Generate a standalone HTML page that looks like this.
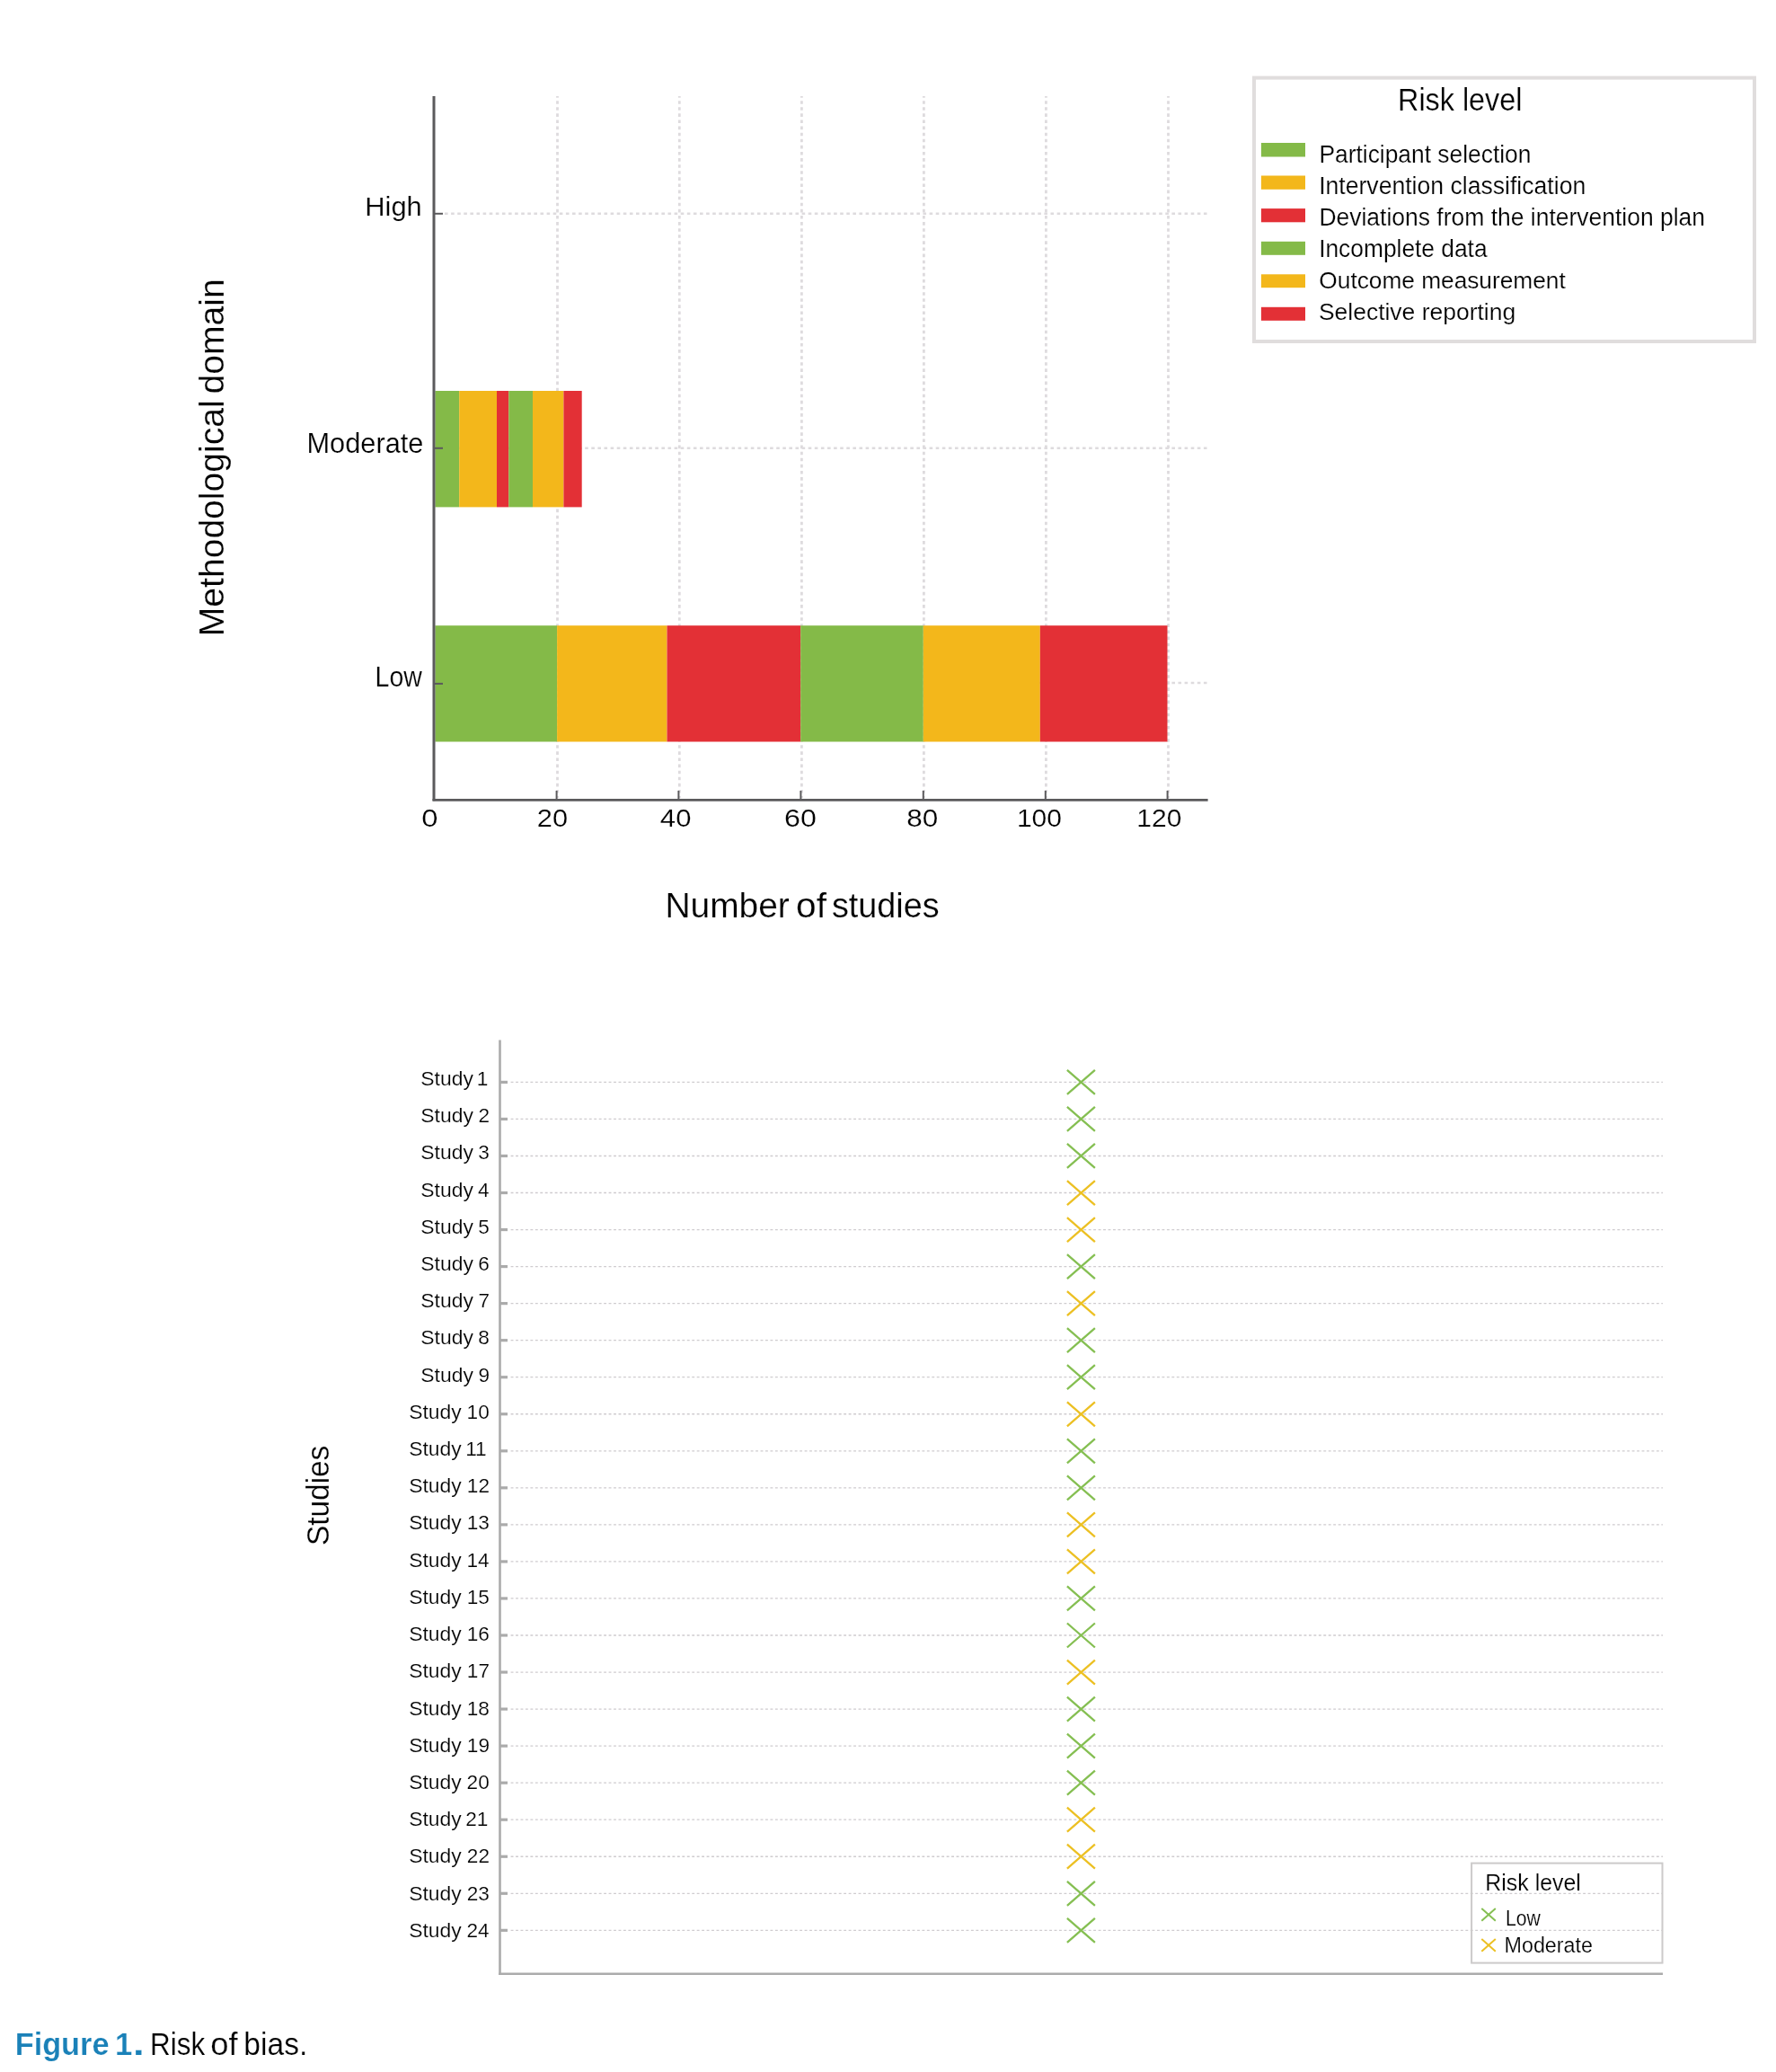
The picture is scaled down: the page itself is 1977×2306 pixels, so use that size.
<!DOCTYPE html>
<html><head><meta charset="utf-8"><title>Figure 1. Risk of bias.</title>
<style>
html,body{margin:0;padding:0;background:#fff;}
body{width:1977px;height:2306px;overflow:hidden;}
text{stroke:#fff;stroke-width:0.2px;}
svg{display:block;will-change:transform;font-family:"Liberation Sans",sans-serif;}
</style></head><body>
<svg width="1977" height="2306" viewBox="0 0 1977 2306">
<rect width="1977" height="2306" fill="#fff"/>
<line x1="620.5" y1="107" x2="620.5" y2="888" stroke="#dedbde" stroke-width="2.8" stroke-dasharray="3.6 3.5" stroke-dashoffset="1.95"/>
<line x1="756.3" y1="107" x2="756.3" y2="888" stroke="#dedbde" stroke-width="2.8" stroke-dasharray="3.6 3.5" stroke-dashoffset="1.95"/>
<line x1="892.4" y1="107" x2="892.4" y2="888" stroke="#dedbde" stroke-width="2.8" stroke-dasharray="3.6 3.5" stroke-dashoffset="1.95"/>
<line x1="1028.4" y1="107" x2="1028.4" y2="888" stroke="#dedbde" stroke-width="2.8" stroke-dasharray="3.6 3.5" stroke-dashoffset="1.95"/>
<line x1="1164.4" y1="107" x2="1164.4" y2="888" stroke="#dedbde" stroke-width="2.8" stroke-dasharray="3.6 3.5" stroke-dashoffset="1.95"/>
<line x1="1300.5" y1="107" x2="1300.5" y2="888" stroke="#dedbde" stroke-width="2.8" stroke-dasharray="3.6 3.5" stroke-dashoffset="1.95"/>
<line x1="495" y1="237.8" x2="1345" y2="237.8" stroke="#dedbde" stroke-width="2.6" stroke-dasharray="3.6 3.5"/>
<line x1="495" y1="498.8" x2="1345" y2="498.8" stroke="#dedbde" stroke-width="2.6" stroke-dasharray="3.6 3.5"/>
<line x1="495" y1="760.0" x2="1345" y2="760.0" stroke="#dedbde" stroke-width="2.6" stroke-dasharray="3.6 3.5"/>
<rect x="484.40" y="435.0" width="26.80" height="129.40" fill="#84ba48"/>
<rect x="511.20" y="435.0" width="41.80" height="129.40" fill="#f3b71b"/>
<rect x="553.00" y="435.0" width="13.30" height="129.40" fill="#e33036"/>
<rect x="566.30" y="435.0" width="26.70" height="129.40" fill="#84ba48"/>
<rect x="593.00" y="435.0" width="34.40" height="129.40" fill="#f3b71b"/>
<rect x="627.40" y="435.0" width="20.30" height="129.40" fill="#e33036"/>
<rect x="484.40" y="696.2" width="135.70" height="129.30" fill="#84ba48"/>
<rect x="620.10" y="696.2" width="122.40" height="129.30" fill="#f3b71b"/>
<rect x="742.50" y="696.2" width="148.70" height="129.30" fill="#e33036"/>
<rect x="891.20" y="696.2" width="136.60" height="129.30" fill="#84ba48"/>
<rect x="1027.80" y="696.2" width="130.00" height="129.30" fill="#f3b71b"/>
<rect x="1157.80" y="696.2" width="141.70" height="129.30" fill="#e33036"/>
<line x1="483" y1="107" x2="483" y2="891.3" stroke="#5b5a5c" stroke-width="3"/>
<line x1="481.5" y1="890.4" x2="1344.6" y2="890.4" stroke="#5b5a5c" stroke-width="2.8"/>
<line x1="483" y1="237.8" x2="493" y2="237.8" stroke="#5b5a5c" stroke-width="2"/>
<line x1="483" y1="498.8" x2="493" y2="498.8" stroke="#5b5a5c" stroke-width="2"/>
<line x1="483" y1="760.9" x2="493" y2="760.9" stroke="#5b5a5c" stroke-width="2"/>
<line x1="619.6" y1="880" x2="619.6" y2="889" stroke="#5b5a5c" stroke-width="2"/>
<line x1="755.4" y1="880" x2="755.4" y2="889" stroke="#5b5a5c" stroke-width="2"/>
<line x1="891.4" y1="880" x2="891.4" y2="889" stroke="#5b5a5c" stroke-width="2"/>
<line x1="1027.8" y1="880" x2="1027.8" y2="889" stroke="#5b5a5c" stroke-width="2"/>
<line x1="1163.8" y1="880" x2="1163.8" y2="889" stroke="#5b5a5c" stroke-width="2"/>
<line x1="1299.6" y1="880" x2="1299.6" y2="889" stroke="#5b5a5c" stroke-width="2"/>
<text x="406.27" y="239.80" font-size="30.38" font-weight="normal" fill="#000" textLength="63.54" lengthAdjust="spacingAndGlyphs" >High</text>
<text x="341.48" y="504.00" font-size="30.52" font-weight="normal" fill="#000" textLength="129.99" lengthAdjust="spacingAndGlyphs" >Moderate</text>
<text x="417.56" y="763.90" font-size="30.52" font-weight="normal" fill="#000" textLength="52.27" lengthAdjust="spacingAndGlyphs" >Low</text>
<text x="469.22" y="919.60" font-size="28.36" font-weight="normal" fill="#000" textLength="18.27" lengthAdjust="spacingAndGlyphs" >0</text>
<text x="597.85" y="919.60" font-size="28.36" font-weight="normal" fill="#000" textLength="34.25" lengthAdjust="spacingAndGlyphs" >20</text>
<text x="734.89" y="919.60" font-size="28.36" font-weight="normal" fill="#000" textLength="34.52" lengthAdjust="spacingAndGlyphs" >40</text>
<text x="873.07" y="919.60" font-size="28.36" font-weight="normal" fill="#000" textLength="35.79" lengthAdjust="spacingAndGlyphs" >60</text>
<text x="1009.23" y="919.60" font-size="28.36" font-weight="normal" fill="#000" textLength="35.00" lengthAdjust="spacingAndGlyphs" >80</text>
<text x="1131.91" y="919.60" font-size="28.36" font-weight="normal" fill="#000" textLength="50.06" lengthAdjust="spacingAndGlyphs" >100</text>
<text x="1265.31" y="919.60" font-size="28.36" font-weight="normal" fill="#000" textLength="50.06" lengthAdjust="spacingAndGlyphs" >120</text>
<text x="740.41" y="1020.80" font-size="38.95" font-weight="normal" fill="#000" textLength="138.44" lengthAdjust="spacingAndGlyphs" >Number</text>
<text x="886.10" y="1020.80" font-size="38.95" font-weight="normal" fill="#000" textLength="33.84" lengthAdjust="spacingAndGlyphs" >of</text>
<text x="925.95" y="1020.80" font-size="38.95" font-weight="normal" fill="#000" textLength="119.61" lengthAdjust="spacingAndGlyphs" >studies</text>
<text transform="translate(249.20,708.21) rotate(-90)" x="0" y="0" font-size="38.95" fill="#000" textLength="262.82" lengthAdjust="spacingAndGlyphs">Methodological</text>
<text transform="translate(249.20,438.54) rotate(-90)" x="0" y="0" font-size="38.95" fill="#000" textLength="128.28" lengthAdjust="spacingAndGlyphs">domain</text>
<rect x="1396" y="86.6" width="557" height="293.4" fill="none" stroke="#e0dddd" stroke-width="4"/>
<text x="1556.05" y="123.00" font-size="34.74" font-weight="normal" fill="#000" textLength="138.31" lengthAdjust="spacingAndGlyphs" >Risk level</text>
<rect x="1403.9" y="159.0" width="49.1" height="15.50" fill="#84ba48"/>
<rect x="1403.9" y="195.5" width="49.1" height="15.30" fill="#f3b71b"/>
<rect x="1403.9" y="232.1" width="49.1" height="15.20" fill="#e33036"/>
<rect x="1403.9" y="268.8" width="49.1" height="15.00" fill="#84ba48"/>
<rect x="1403.9" y="305.3" width="49.1" height="14.90" fill="#f3b71b"/>
<rect x="1403.9" y="341.8" width="49.1" height="15.00" fill="#e33036"/>
<text x="1468.44" y="180.95" font-size="27.40" font-weight="normal" fill="#000" textLength="235.98" lengthAdjust="spacingAndGlyphs" >Participant selection</text>
<text x="1468.15" y="215.80" font-size="27.18" font-weight="normal" fill="#000" textLength="297.08" lengthAdjust="spacingAndGlyphs" >Intervention classification</text>
<text x="1468.43" y="250.80" font-size="27.18" font-weight="normal" fill="#000" textLength="429.59" lengthAdjust="spacingAndGlyphs" >Deviations from the intervention plan</text>
<text x="1468.17" y="285.95" font-size="27.40" font-weight="normal" fill="#000" textLength="187.43" lengthAdjust="spacingAndGlyphs" >Incomplete data</text>
<text x="1468.36" y="320.50" font-size="26.50" font-weight="normal" fill="#000" textLength="274.34" lengthAdjust="spacingAndGlyphs" >Outcome measurement</text>
<text x="1467.90" y="355.50" font-size="26.50" font-weight="normal" fill="#000" textLength="219.31" lengthAdjust="spacingAndGlyphs" >Selective reporting</text>
<line x1="568.6" y1="1204.40" x2="1851" y2="1204.40" stroke="#cfcccf" stroke-width="1.3" stroke-dasharray="2.9 2.55"/>
<line x1="568.6" y1="1245.44" x2="1851" y2="1245.44" stroke="#cfcccf" stroke-width="1.3" stroke-dasharray="2.9 2.55"/>
<line x1="568.6" y1="1286.48" x2="1851" y2="1286.48" stroke="#cfcccf" stroke-width="1.3" stroke-dasharray="2.9 2.55"/>
<line x1="568.6" y1="1327.52" x2="1851" y2="1327.52" stroke="#cfcccf" stroke-width="1.3" stroke-dasharray="2.9 2.55"/>
<line x1="568.6" y1="1368.56" x2="1851" y2="1368.56" stroke="#cfcccf" stroke-width="1.3" stroke-dasharray="2.9 2.55"/>
<line x1="568.6" y1="1409.60" x2="1851" y2="1409.60" stroke="#cfcccf" stroke-width="1.3" stroke-dasharray="2.9 2.55"/>
<line x1="568.6" y1="1450.64" x2="1851" y2="1450.64" stroke="#cfcccf" stroke-width="1.3" stroke-dasharray="2.9 2.55"/>
<line x1="568.6" y1="1491.68" x2="1851" y2="1491.68" stroke="#cfcccf" stroke-width="1.3" stroke-dasharray="2.9 2.55"/>
<line x1="568.6" y1="1532.72" x2="1851" y2="1532.72" stroke="#cfcccf" stroke-width="1.3" stroke-dasharray="2.9 2.55"/>
<line x1="568.6" y1="1573.76" x2="1851" y2="1573.76" stroke="#cfcccf" stroke-width="1.3" stroke-dasharray="2.9 2.55"/>
<line x1="568.6" y1="1614.80" x2="1851" y2="1614.80" stroke="#cfcccf" stroke-width="1.3" stroke-dasharray="2.9 2.55"/>
<line x1="568.6" y1="1655.84" x2="1851" y2="1655.84" stroke="#cfcccf" stroke-width="1.3" stroke-dasharray="2.9 2.55"/>
<line x1="568.6" y1="1696.88" x2="1851" y2="1696.88" stroke="#cfcccf" stroke-width="1.3" stroke-dasharray="2.9 2.55"/>
<line x1="568.6" y1="1737.92" x2="1851" y2="1737.92" stroke="#cfcccf" stroke-width="1.3" stroke-dasharray="2.9 2.55"/>
<line x1="568.6" y1="1778.96" x2="1851" y2="1778.96" stroke="#cfcccf" stroke-width="1.3" stroke-dasharray="2.9 2.55"/>
<line x1="568.6" y1="1820.00" x2="1851" y2="1820.00" stroke="#cfcccf" stroke-width="1.3" stroke-dasharray="2.9 2.55"/>
<line x1="568.6" y1="1861.04" x2="1851" y2="1861.04" stroke="#cfcccf" stroke-width="1.3" stroke-dasharray="2.9 2.55"/>
<line x1="568.6" y1="1902.08" x2="1851" y2="1902.08" stroke="#cfcccf" stroke-width="1.3" stroke-dasharray="2.9 2.55"/>
<line x1="568.6" y1="1943.12" x2="1851" y2="1943.12" stroke="#cfcccf" stroke-width="1.3" stroke-dasharray="2.9 2.55"/>
<line x1="568.6" y1="1984.16" x2="1851" y2="1984.16" stroke="#cfcccf" stroke-width="1.3" stroke-dasharray="2.9 2.55"/>
<line x1="568.6" y1="2025.20" x2="1851" y2="2025.20" stroke="#cfcccf" stroke-width="1.3" stroke-dasharray="2.9 2.55"/>
<line x1="568.6" y1="2066.24" x2="1851" y2="2066.24" stroke="#cfcccf" stroke-width="1.3" stroke-dasharray="2.9 2.55"/>
<line x1="568.6" y1="2107.28" x2="1851" y2="2107.28" stroke="#cfcccf" stroke-width="1.3" stroke-dasharray="2.9 2.55"/>
<line x1="568.6" y1="2148.32" x2="1851" y2="2148.32" stroke="#cfcccf" stroke-width="1.3" stroke-dasharray="2.9 2.55"/>
<line x1="556.5" y1="1157.5" x2="556.5" y2="2198" stroke="#ababab" stroke-width="2.6"/>
<line x1="555.2" y1="2196.7" x2="1851" y2="2196.7" stroke="#ababab" stroke-width="2.6"/>
<line x1="556.5" y1="1204.40" x2="565" y2="1204.40" stroke="#ababab" stroke-width="3.2"/>
<path d="M1187.90 1190.90L1218.90 1217.90M1187.90 1217.90L1218.90 1190.90" stroke="#85bf52" stroke-width="2.3" fill="none"/>
<text x="468.26" y="1207.90" font-size="22.63" font-weight="normal" fill="#000" textLength="58.59" lengthAdjust="spacingAndGlyphs" >Study</text>
<text x="530.80" y="1207.90" font-size="22.63">1</text>
<line x1="556.5" y1="1245.44" x2="565" y2="1245.44" stroke="#ababab" stroke-width="3.2"/>
<path d="M1187.90 1231.94L1218.90 1258.94M1187.90 1258.94L1218.90 1231.94" stroke="#85bf52" stroke-width="2.3" fill="none"/>
<text x="468.26" y="1249.11" font-size="22.63" font-weight="normal" fill="#000" textLength="58.59" lengthAdjust="spacingAndGlyphs" >Study</text>
<text x="532.45" y="1249.11" font-size="22.63">2</text>
<line x1="556.5" y1="1286.48" x2="565" y2="1286.48" stroke="#ababab" stroke-width="3.2"/>
<path d="M1187.90 1272.98L1218.90 1299.98M1187.90 1299.98L1218.90 1272.98" stroke="#85bf52" stroke-width="2.3" fill="none"/>
<text x="468.26" y="1290.33" font-size="22.63" font-weight="normal" fill="#000" textLength="58.59" lengthAdjust="spacingAndGlyphs" >Study</text>
<text x="532.31" y="1290.33" font-size="22.63">3</text>
<line x1="556.5" y1="1327.52" x2="565" y2="1327.52" stroke="#ababab" stroke-width="3.2"/>
<path d="M1187.90 1314.02L1218.90 1341.02M1187.90 1341.02L1218.90 1314.02" stroke="#ecc023" stroke-width="2.3" fill="none"/>
<text x="468.26" y="1331.54" font-size="22.63" font-weight="normal" fill="#000" textLength="58.59" lengthAdjust="spacingAndGlyphs" >Study</text>
<text x="531.98" y="1331.54" font-size="22.63">4</text>
<line x1="556.5" y1="1368.56" x2="565" y2="1368.56" stroke="#ababab" stroke-width="3.2"/>
<path d="M1187.90 1355.06L1218.90 1382.06M1187.90 1382.06L1218.90 1355.06" stroke="#ecc023" stroke-width="2.3" fill="none"/>
<text x="468.26" y="1372.75" font-size="22.63" font-weight="normal" fill="#000" textLength="58.59" lengthAdjust="spacingAndGlyphs" >Study</text>
<text x="532.27" y="1372.75" font-size="22.63">5</text>
<line x1="556.5" y1="1409.60" x2="565" y2="1409.60" stroke="#ababab" stroke-width="3.2"/>
<path d="M1187.90 1396.10L1218.90 1423.10M1187.90 1423.10L1218.90 1396.10" stroke="#85bf52" stroke-width="2.3" fill="none"/>
<text x="468.26" y="1413.97" font-size="22.63" font-weight="normal" fill="#000" textLength="58.59" lengthAdjust="spacingAndGlyphs" >Study</text>
<text x="532.31" y="1413.97" font-size="22.63">6</text>
<line x1="556.5" y1="1450.64" x2="565" y2="1450.64" stroke="#ababab" stroke-width="3.2"/>
<path d="M1187.90 1437.14L1218.90 1464.14M1187.90 1464.14L1218.90 1437.14" stroke="#ecc023" stroke-width="2.3" fill="none"/>
<text x="468.26" y="1455.18" font-size="22.63" font-weight="normal" fill="#000" textLength="58.59" lengthAdjust="spacingAndGlyphs" >Study</text>
<text x="532.45" y="1455.18" font-size="22.63">7</text>
<line x1="556.5" y1="1491.68" x2="565" y2="1491.68" stroke="#ababab" stroke-width="3.2"/>
<path d="M1187.90 1478.18L1218.90 1505.18M1187.90 1505.18L1218.90 1478.18" stroke="#85bf52" stroke-width="2.3" fill="none"/>
<text x="468.26" y="1496.39" font-size="22.63" font-weight="normal" fill="#000" textLength="58.59" lengthAdjust="spacingAndGlyphs" >Study</text>
<text x="532.30" y="1496.39" font-size="22.63">8</text>
<line x1="556.5" y1="1532.72" x2="565" y2="1532.72" stroke="#ababab" stroke-width="3.2"/>
<path d="M1187.90 1519.22L1218.90 1546.22M1187.90 1546.22L1218.90 1519.22" stroke="#85bf52" stroke-width="2.3" fill="none"/>
<text x="468.26" y="1537.60" font-size="22.63" font-weight="normal" fill="#000" textLength="58.59" lengthAdjust="spacingAndGlyphs" >Study</text>
<text x="532.39" y="1537.60" font-size="22.63">9</text>
<line x1="556.5" y1="1573.76" x2="565" y2="1573.76" stroke="#ababab" stroke-width="3.2"/>
<path d="M1187.90 1560.26L1218.90 1587.26M1187.90 1587.26L1218.90 1560.26" stroke="#ecc023" stroke-width="2.3" fill="none"/>
<text x="455.16" y="1578.82" font-size="22.63" font-weight="normal" fill="#000" textLength="58.59" lengthAdjust="spacingAndGlyphs" >Study</text>
<text x="519.61" y="1578.82" font-size="22.63">10</text>
<line x1="556.5" y1="1614.80" x2="565" y2="1614.80" stroke="#ababab" stroke-width="3.2"/>
<path d="M1187.90 1601.30L1218.90 1628.30M1187.90 1628.30L1218.90 1601.30" stroke="#85bf52" stroke-width="2.3" fill="none"/>
<text x="455.16" y="1620.03" font-size="22.63" font-weight="normal" fill="#000" textLength="58.59" lengthAdjust="spacingAndGlyphs" >Study</text>
<text x="518.21" y="1620.03" font-size="22.63">11</text>
<line x1="556.5" y1="1655.84" x2="565" y2="1655.84" stroke="#ababab" stroke-width="3.2"/>
<path d="M1187.90 1642.34L1218.90 1669.34M1187.90 1669.34L1218.90 1642.34" stroke="#85bf52" stroke-width="2.3" fill="none"/>
<text x="455.16" y="1661.24" font-size="22.63" font-weight="normal" fill="#000" textLength="58.59" lengthAdjust="spacingAndGlyphs" >Study</text>
<text x="519.87" y="1661.24" font-size="22.63">12</text>
<line x1="556.5" y1="1696.88" x2="565" y2="1696.88" stroke="#ababab" stroke-width="3.2"/>
<path d="M1187.90 1683.38L1218.90 1710.38M1187.90 1710.38L1218.90 1683.38" stroke="#ecc023" stroke-width="2.3" fill="none"/>
<text x="455.16" y="1702.46" font-size="22.63" font-weight="normal" fill="#000" textLength="58.59" lengthAdjust="spacingAndGlyphs" >Study</text>
<text x="519.72" y="1702.46" font-size="22.63">13</text>
<line x1="556.5" y1="1737.92" x2="565" y2="1737.92" stroke="#ababab" stroke-width="3.2"/>
<path d="M1187.90 1724.42L1218.90 1751.42M1187.90 1751.42L1218.90 1724.42" stroke="#ecc023" stroke-width="2.3" fill="none"/>
<text x="455.16" y="1743.67" font-size="22.63" font-weight="normal" fill="#000" textLength="58.59" lengthAdjust="spacingAndGlyphs" >Study</text>
<text x="519.39" y="1743.67" font-size="22.63">14</text>
<line x1="556.5" y1="1778.96" x2="565" y2="1778.96" stroke="#ababab" stroke-width="3.2"/>
<path d="M1187.90 1765.46L1218.90 1792.46M1187.90 1792.46L1218.90 1765.46" stroke="#85bf52" stroke-width="2.3" fill="none"/>
<text x="455.16" y="1784.88" font-size="22.63" font-weight="normal" fill="#000" textLength="58.59" lengthAdjust="spacingAndGlyphs" >Study</text>
<text x="519.68" y="1784.88" font-size="22.63">15</text>
<line x1="556.5" y1="1820.00" x2="565" y2="1820.00" stroke="#ababab" stroke-width="3.2"/>
<path d="M1187.90 1806.50L1218.90 1833.50M1187.90 1833.50L1218.90 1806.50" stroke="#85bf52" stroke-width="2.3" fill="none"/>
<text x="455.16" y="1826.10" font-size="22.63" font-weight="normal" fill="#000" textLength="58.59" lengthAdjust="spacingAndGlyphs" >Study</text>
<text x="519.72" y="1826.10" font-size="22.63">16</text>
<line x1="556.5" y1="1861.04" x2="565" y2="1861.04" stroke="#ababab" stroke-width="3.2"/>
<path d="M1187.90 1847.54L1218.90 1874.54M1187.90 1874.54L1218.90 1847.54" stroke="#ecc023" stroke-width="2.3" fill="none"/>
<text x="455.16" y="1867.31" font-size="22.63" font-weight="normal" fill="#000" textLength="58.59" lengthAdjust="spacingAndGlyphs" >Study</text>
<text x="519.87" y="1867.31" font-size="22.63">17</text>
<line x1="556.5" y1="1902.08" x2="565" y2="1902.08" stroke="#ababab" stroke-width="3.2"/>
<path d="M1187.90 1888.58L1218.90 1915.58M1187.90 1915.58L1218.90 1888.58" stroke="#85bf52" stroke-width="2.3" fill="none"/>
<text x="455.16" y="1908.52" font-size="22.63" font-weight="normal" fill="#000" textLength="58.59" lengthAdjust="spacingAndGlyphs" >Study</text>
<text x="519.71" y="1908.52" font-size="22.63">18</text>
<line x1="556.5" y1="1943.12" x2="565" y2="1943.12" stroke="#ababab" stroke-width="3.2"/>
<path d="M1187.90 1929.62L1218.90 1956.62M1187.90 1956.62L1218.90 1929.62" stroke="#85bf52" stroke-width="2.3" fill="none"/>
<text x="455.16" y="1949.73" font-size="22.63" font-weight="normal" fill="#000" textLength="58.59" lengthAdjust="spacingAndGlyphs" >Study</text>
<text x="519.80" y="1949.73" font-size="22.63">19</text>
<line x1="556.5" y1="1984.16" x2="565" y2="1984.16" stroke="#ababab" stroke-width="3.2"/>
<path d="M1187.90 1970.66L1218.90 1997.66M1187.90 1997.66L1218.90 1970.66" stroke="#85bf52" stroke-width="2.3" fill="none"/>
<text x="455.16" y="1990.95" font-size="22.63" font-weight="normal" fill="#000" textLength="58.59" lengthAdjust="spacingAndGlyphs" >Study</text>
<text x="519.61" y="1990.95" font-size="22.63">20</text>
<line x1="556.5" y1="2025.20" x2="565" y2="2025.20" stroke="#ababab" stroke-width="3.2"/>
<path d="M1187.90 2011.70L1218.90 2038.70M1187.90 2038.70L1218.90 2011.70" stroke="#ecc023" stroke-width="2.3" fill="none"/>
<text x="455.16" y="2032.16" font-size="22.63" font-weight="normal" fill="#000" textLength="58.59" lengthAdjust="spacingAndGlyphs" >Study</text>
<text x="518.21" y="2032.16" font-size="22.63">21</text>
<line x1="556.5" y1="2066.24" x2="565" y2="2066.24" stroke="#ababab" stroke-width="3.2"/>
<path d="M1187.90 2052.74L1218.90 2079.74M1187.90 2079.74L1218.90 2052.74" stroke="#ecc023" stroke-width="2.3" fill="none"/>
<text x="455.16" y="2073.37" font-size="22.63" font-weight="normal" fill="#000" textLength="58.59" lengthAdjust="spacingAndGlyphs" >Study</text>
<text x="519.87" y="2073.37" font-size="22.63">22</text>
<line x1="556.5" y1="2107.28" x2="565" y2="2107.28" stroke="#ababab" stroke-width="3.2"/>
<path d="M1187.90 2093.78L1218.90 2120.78M1187.90 2120.78L1218.90 2093.78" stroke="#85bf52" stroke-width="2.3" fill="none"/>
<text x="455.16" y="2114.59" font-size="22.63" font-weight="normal" fill="#000" textLength="58.59" lengthAdjust="spacingAndGlyphs" >Study</text>
<text x="519.72" y="2114.59" font-size="22.63">23</text>
<line x1="556.5" y1="2148.32" x2="565" y2="2148.32" stroke="#ababab" stroke-width="3.2"/>
<path d="M1187.90 2134.82L1218.90 2161.82M1187.90 2161.82L1218.90 2134.82" stroke="#85bf52" stroke-width="2.3" fill="none"/>
<text x="455.16" y="2155.80" font-size="22.63" font-weight="normal" fill="#000" textLength="58.59" lengthAdjust="spacingAndGlyphs" >Study</text>
<text x="519.39" y="2155.80" font-size="22.63">24</text>
<text transform="translate(365.80,1720.02) rotate(-90)" x="0" y="0" font-size="34.52" fill="#000" textLength="111.32" lengthAdjust="spacingAndGlyphs">Studies</text>
<rect x="1638.1" y="2073.6" width="212.4" height="111" fill="none" stroke="#cccaca" stroke-width="2"/>
<text x="1653.36" y="2103.60" font-size="26.31" font-weight="normal" fill="#000" textLength="106.51" lengthAdjust="spacingAndGlyphs" >Risk level</text>
<path d="M1649.3 2124.0L1664.8 2137.7999999999997M1649.3 2137.7999999999997L1664.8 2124.0" stroke="#85bf52" stroke-width="2.0" fill="none"/>
<path d="M1649.3 2158.0L1664.8 2171.7999999999997M1649.3 2171.7999999999997L1664.8 2158.0" stroke="#ecc023" stroke-width="2.0" fill="none"/>
<text x="1675.96" y="2143.00" font-size="23.40" font-weight="normal" fill="#000" textLength="38.89" lengthAdjust="spacingAndGlyphs" >Low</text>
<text x="1674.49" y="2173.00" font-size="23.55" font-weight="normal" fill="#000" textLength="98.55" lengthAdjust="spacingAndGlyphs" >Moderate</text>
<text x="16.71" y="2286.90" font-size="34.74" font-weight="bold" fill="#1a81b8" textLength="104.77" lengthAdjust="spacingAndGlyphs" >Figure</text>
<text x="128.08" y="2286.90" font-size="34.74" font-weight="bold" fill="#1a81b8" textLength="19.32" lengthAdjust="spacingAndGlyphs" >1</text>
<text x="147.78" y="2286.90" font-size="34.74" font-weight="bold" fill="#1a81b8" textLength="13.19" lengthAdjust="spacingAndGlyphs" >.</text>
<text x="167.02" y="2286.80" font-size="34.45" font-weight="normal" fill="#000" textLength="61.13" lengthAdjust="spacingAndGlyphs" >Risk</text>
<text x="234.27" y="2286.80" font-size="34.45" font-weight="normal" fill="#000" textLength="30.38" lengthAdjust="spacingAndGlyphs" >of</text>
<text x="271.34" y="2286.80" font-size="34.45" font-weight="normal" fill="#000" textLength="70.93" lengthAdjust="spacingAndGlyphs" >bias.</text>
</svg>
</body></html>
